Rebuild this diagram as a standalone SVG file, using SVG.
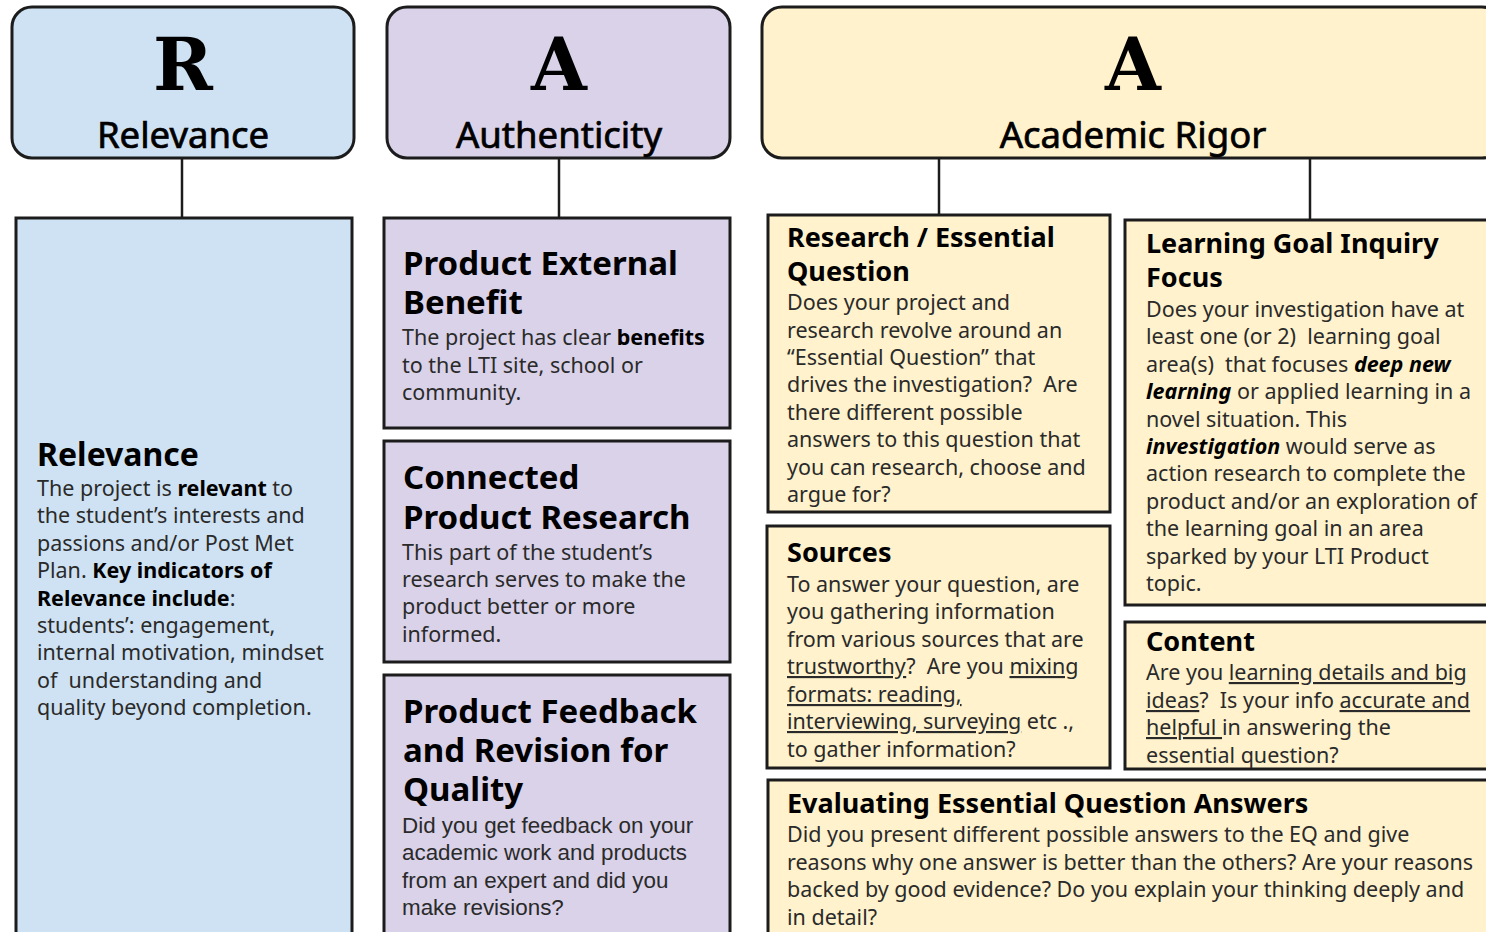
<svg xmlns="http://www.w3.org/2000/svg" width="1486" height="932" viewBox="0 0 1486 932">
  <style>
    .head { stroke: #1c1c1c; stroke-width: 3; }
    .box { stroke: #1c1c1c; stroke-width: 3; }
    .blue { fill: #cfe2f3; }
    .purple { fill: #d9d2e9; }
    .yellow { fill: #fff2cc; }
    .letter { font-family: "DejaVu Serif", "Liberation Serif", serif; font-weight: bold; font-size: 72px; fill: #000; text-anchor: middle; }
    .label { font-family: "Noto Sans", "Open Sans", sans-serif; font-size: 36.5px; fill: #000; stroke: #000; stroke-width: 0.7; text-anchor: middle; }
    .title { font-family: "Noto Sans", "Open Sans", sans-serif; font-weight: bold; fill: #000; }
    .t32 { font-size: 33px; }
    .t31 { font-size: 32px; }
    .t28 { font-size: 27px; }
    .body { font-family: "Noto Sans", "Open Sans", sans-serif; font-size: 21.5px; fill: #2a2a2a; white-space: pre; }
    .arial { font-family: "Liberation Sans", Arial, sans-serif; font-size: 22.4px; fill: #2a2a2a; }
    .b { font-weight: bold; fill: #000; }
    .bi { font-weight: bold; font-style: italic; fill: #000; }
    .u { text-decoration: underline; }
    .link { fill: none; stroke: #1c1c1c; stroke-width: 2.5; }
  </style>

  <!-- connectors from the pillar headers down to their criteria -->
  <g id="connectors">
    <line class="link" x1="182" y1="158" x2="182" y2="218"/>
    <line class="link" x1="559" y1="158" x2="559" y2="218"/>
    <line class="link" x1="939" y1="158" x2="939" y2="215"/>
    <line class="link" x1="1310" y1="158" x2="1310" y2="220"/>
  </g>

  <!-- pillar headers -->
  <g id="head-relevance">
    <rect class="head blue" x="12" y="7" width="342" height="151" rx="20"/>
    <text class="letter" x="183" y="90">R</text>
    <text class="label" x="183" y="148">Relevance</text>
  </g>
  <g id="head-authenticity">
    <rect class="head purple" x="387" y="7" width="343" height="151" rx="20"/>
    <text class="letter" x="559" y="90">A</text>
    <text class="label" x="559" y="148">Authenticity</text>
  </g>
  <g id="head-rigor">
    <rect class="head yellow" x="762" y="7" width="740" height="151" rx="20"/>
    <text class="letter" x="1133" y="90">A</text>
    <text class="label" x="1133" y="148">Academic Rigor</text>
  </g>

  <!-- Relevance column -->
  <g id="relevance">
    <rect class="box blue" x="16" y="218" width="336" height="730"/>
    <text class="title t31" x="37" y="466">Relevance</text>
    <text class="body" x="37" y="496" xml:space="preserve">The project is <tspan class="b">relevant</tspan> to</text>
    <text class="body" x="37" y="523">the student’s interests and</text>
    <text class="body" x="37" y="551">passions and/or Post Met</text>
    <text class="body" x="37" y="578" xml:space="preserve">Plan. <tspan class="b">Key indicators of</tspan></text>
    <text class="body" x="37" y="606"><tspan class="b">Relevance include</tspan>:</text>
    <text class="body" x="37" y="633">students’: engagement,</text>
    <text class="body" x="37" y="660">internal motivation, mindset</text>
    <text class="body" x="37" y="688" xml:space="preserve">of  understanding and</text>
    <text class="body" x="37" y="715">quality beyond completion.</text>
  </g>

  <!-- Authenticity column -->
  <g id="external-benefit">
    <rect class="box purple" x="384" y="218" width="346" height="210"/>
    <text class="title t32" x="403" y="275">Product External</text>
    <text class="title t32" x="403" y="314">Benefit</text>
    <text class="body" x="402" y="345" xml:space="preserve">The project has clear <tspan class="b">benefits</tspan></text>
    <text class="body" x="402" y="373">to the LTI site, school or</text>
    <text class="body" x="402" y="400">community.</text>
  </g>
  <g id="product-research">
    <rect class="box purple" x="384" y="441" width="346" height="221"/>
    <text class="title t32" x="403" y="489">Connected</text>
    <text class="title t32" x="403" y="529">Product Research</text>
    <text class="body" x="402" y="560">This part of the student’s</text>
    <text class="body" x="402" y="587">research serves to make the</text>
    <text class="body" x="402" y="614">product better or more</text>
    <text class="body" x="402" y="642">informed.</text>
  </g>
  <g id="feedback-revision">
    <rect class="box purple" x="384" y="675" width="346" height="275"/>
    <text class="title t32" x="403" y="723">Product Feedback</text>
    <text class="title t32" x="403" y="762">and Revision for</text>
    <text class="title t32" x="403" y="801">Quality</text>
    <text class="arial" x="402" y="833">Did you get feedback on your</text>
    <text class="arial" x="402" y="860">academic work and products</text>
    <text class="arial" x="402" y="888">from an expert and did you</text>
    <text class="arial" x="402" y="915">make revisions?</text>
  </g>

  <!-- Academic Rigor column -->
  <g id="essential-question">
    <rect class="box yellow" x="768" y="215" width="342" height="297"/>
    <text class="title t28" x="787" y="247">Research / Essential</text>
    <text class="title t28" x="787" y="281">Question</text>
    <text class="body" x="787" y="310">Does your project and</text>
    <text class="body" x="787" y="338">research revolve around an</text>
    <text class="body" x="787" y="365">“Essential Question” that</text>
    <text class="body" x="787" y="392" xml:space="preserve">drives the investigation?  Are</text>
    <text class="body" x="787" y="420">there different possible</text>
    <text class="body" x="787" y="447">answers to this question that</text>
    <text class="body" x="787" y="475">you can research, choose and</text>
    <text class="body" x="787" y="502">argue for?</text>
  </g>
  <g id="learning-goal">
    <rect class="box yellow" x="1125" y="220" width="380" height="385"/>
    <text class="title t28" x="1146" y="253">Learning Goal Inquiry</text>
    <text class="title t28" x="1146" y="287">Focus</text>
    <text class="body" x="1146" y="317">Does your investigation have at</text>
    <text class="body" x="1146" y="344" xml:space="preserve">least one (or 2)  learning goal</text>
    <text class="body" x="1146" y="372" xml:space="preserve">area(s)  that focuses <tspan class="bi">deep new</tspan></text>
    <text class="body" x="1146" y="399" xml:space="preserve"><tspan class="bi">learning</tspan> or applied learning in a</text>
    <text class="body" x="1146" y="427">novel situation. This</text>
    <text class="body" x="1146" y="454" xml:space="preserve"><tspan class="bi">investigation</tspan> would serve as</text>
    <text class="body" x="1146" y="481">action research to complete the</text>
    <text class="body" x="1146" y="509">product and/or an exploration of</text>
    <text class="body" x="1146" y="536">the learning goal in an area</text>
    <text class="body" x="1146" y="564">sparked by your LTI Product</text>
    <text class="body" x="1146" y="591">topic.</text>
  </g>
  <g id="sources">
    <rect class="box yellow" x="767" y="526" width="343" height="242"/>
    <text class="title t28" x="787" y="562">Sources</text>
    <text class="body" x="787" y="592">To answer your question, are</text>
    <text class="body" x="787" y="619">you gathering information</text>
    <text class="body" x="787" y="647">from various sources that are</text>
    <text class="body" x="787" y="674" xml:space="preserve"><tspan class="u">trustworthy</tspan>?  Are you <tspan class="u">mixing</tspan></text>
    <text class="body" x="787" y="702"><tspan class="u">formats: reading,</tspan></text>
    <text class="body" x="787" y="729" xml:space="preserve"><tspan class="u">interviewing, surveying</tspan> etc .,</text>
    <text class="body" x="787" y="757">to gather information?</text>
  </g>
  <g id="content">
    <rect class="box yellow" x="1125" y="622" width="380" height="147"/>
    <text class="title t28" x="1146" y="651">Content</text>
    <text class="body" x="1146" y="680" xml:space="preserve">Are you <tspan class="u">learning details and big</tspan></text>
    <text class="body" x="1146" y="708" xml:space="preserve"><tspan class="u">ideas</tspan>?  Is your info <tspan class="u">accurate and</tspan></text>
    <text class="body" x="1146" y="735" xml:space="preserve"><tspan class="u">helpful </tspan>in answering the</text>
    <text class="body" x="1146" y="763">essential question?</text>
  </g>
  <g id="evaluating-answers">
    <rect class="box yellow" x="768" y="780" width="740" height="170"/>
    <text class="title t28" x="787" y="813">Evaluating Essential Question Answers</text>
    <text class="body" x="787" y="842">Did you present different possible answers to the EQ and give</text>
    <text class="body" x="787" y="870">reasons why one answer is better than the others? Are your reasons</text>
    <text class="body" x="787" y="897">backed by good evidence? Do you explain your thinking deeply and</text>
    <text class="body" x="787" y="925">in detail?</text>
  </g>
</svg>
